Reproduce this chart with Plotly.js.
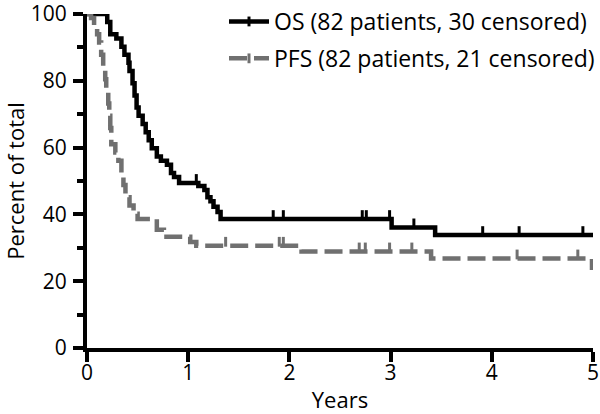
<!DOCTYPE html>
<html>
<head>
<meta charset="utf-8">
<script src="https://cdn.plot.ly/plotly-3.0.1.min.js"></script>
<style>
	html, body { margin: 0; padding: 0; background: #fff; }
	#chart { width: 600px; height: 414px; }
</style>
</head>
<body>
<div id="chart"></div>
<script>
	// OS - Kaplan-Meier steps (years, percent)
	const osTimes = [0, 0.20, 0.23, 0.29, 0.34, 0.37, 0.41, 0.42, 0.45, 0.47, 0.49, 0.51, 0.55, 0.58, 0.61, 0.64, 0.69, 0.73, 0.79, 0.83, 0.86, 0.91, 1.10, 1.16, 1.19, 1.22, 1.25, 1.29, 1.32, 3.01, 3.44, 5.0];
	const osSurv  = [100, 97.6, 93.9, 92.7, 90.2, 87.8, 85.4, 82.9, 79.3, 75.6, 72.0, 69.5, 67.1, 64.6, 62.2, 59.8, 57.3, 56.1, 54.9, 52.4, 51.2, 49.4, 48.5, 47.3, 45.1, 43.9, 42.3, 40.7, 38.6, 36.1, 33.8, 33.8];
	const osCensored = [1.08, 1.84, 1.94, 2.72, 2.76, 2.99, 3.23, 3.91, 4.27, 4.90];

	// PFS - Kaplan-Meier steps (years, percent)
	const pfsTimes = [0, 0.04, 0.07, 0.10, 0.12, 0.14, 0.16, 0.18, 0.19, 0.21, 0.22, 0.23, 0.24, 0.28, 0.31, 0.34, 0.36, 0.38, 0.42, 0.46, 0.50, 0.69, 0.76, 1.02, 1.08, 2.12, 3.40, 4.99, 5.0];
	const pfsSurv  = [100, 98.8, 96.3, 93.9, 91.5, 87.8, 84.1, 80.5, 76.8, 73.2, 69.5, 65.9, 61.0, 58.5, 56.1, 52.4, 48.8, 45.1, 42.7, 40.2, 38.6, 35.4, 33.3, 31.7, 30.6, 28.9, 26.8, 24.0, 24.0];
	const pfsCensored = [1.37, 1.90, 1.94, 2.69, 2.75, 2.99, 3.21, 4.25, 4.85];

	const legendNames = ['OS (82 patients, 30 censored)', 'PFS (82 patients, 21 censored)'];
	const yTicks = [0, 20, 40, 60, 80, 100];
	const xTicks = [0, 1, 2, 3, 4, 5];

	const FONT = '"Open Sans", "DejaVu Sans", sans-serif';

	// value of the step curve at time t
	const stepAt = ( t, times, surv ) => {
		let v = surv[0];
		times.forEach(( tt, i ) => { if( tt <= t ) v = surv[i]; });
		return v;
	};

	/**
	* build the 3 traces for one series:
	* step curve, censor ticks, legend entry (line + tick)
	*/
	const buildSeries = ({ times, surv, censored, name, color, dash, group }) => {
		const line = { color, width: 4.5, dash, shape: 'hv' };
		const tick = { symbol: 'line-ns', size: 7, line: { color, width: 3 }};
		return [
			{
				x: times, y: surv,
				type: 'scatter', mode: 'lines',
				line, legendgroup: group, showlegend: false,
				cliponaxis: false, hoverinfo: 'skip',
			},
			{
				// censor ticks sit on top of the line
				x: censored,
				y: censored.map( t => stepAt( t, times, surv ) + 1.2 ),
				type: 'scatter', mode: 'markers',
				marker: tick, legendgroup: group, showlegend: false,
				cliponaxis: false, hoverinfo: 'skip',
			},
			{
				x: [null], y: [null],
				type: 'scatter', mode: 'lines+markers',
				name, line: Object.assign({}, line, { shape: 'linear' }),
				marker: tick, legendgroup: group,
			},
		];
	};

	const data = [
		...buildSeries({
			times: osTimes, surv: osSurv, censored: osCensored,
			name: legendNames[0], color: '#000000', dash: 'solid', group: 'os',
		}),
		...buildSeries({
			times: pfsTimes, surv: pfsSurv, censored: pfsCensored,
			name: legendNames[1], color: '#707070', dash: '18px,7px', group: 'pfs',
		}),
	];

	const axisStyle = {
		showline: true, linecolor: '#000', linewidth: 4,
		ticks: 'outside', ticklen: 10, tickwidth: 4, tickcolor: '#000',
		showgrid: false, zeroline: false,
		tickfont: { family: FONT, size: 21, color: '#000' },
		ticklabeloverflow: 'allow',
		fixedrange: true,
	};

	const layout = {
		width: 600, height: 414,
		margin: { l: 87, r: 7, t: 14, b: 66, autoexpand: false },
		paper_bgcolor: '#fff', plot_bgcolor: '#fff',
		showlegend: true,
		legend: {
			xref: 'container', yref: 'container',
			x: 1.0, xanchor: 'right', y: 1.0, yanchor: 'top',
			font: { family: FONT, size: 23, color: '#000' },
			bgcolor: 'rgba(0,0,0,0)',
			traceorder: 'grouped', tracegroupgap: 4,
			itemwidth: 40,
		},
		xaxis: Object.assign({}, axisStyle, {
			range: [0, 5],
			tickvals: xTicks,
			ticklabelstandoff: -7,
			title: { text: 'Years', font: { family: FONT, size: 22, color: '#000' }, standoff: 10 },
		}),
		yaxis: Object.assign({}, axisStyle, {
			range: [0, 100],
			tickvals: yTicks,
			ticklabelstandoff: 2,
			minor: { dtick: 10, ticks: 'outside', ticklen: 6, tickwidth: 4, tickcolor: '#000' },
			title: { text: 'Percent of total', font: { family: FONT, size: 22, color: '#000' }, standoff: 6 },
		}),
	};

	Plotly.newPlot('chart', data, layout, { displayModeBar: false, staticPlot: true });
</script>
</body>
</html>
